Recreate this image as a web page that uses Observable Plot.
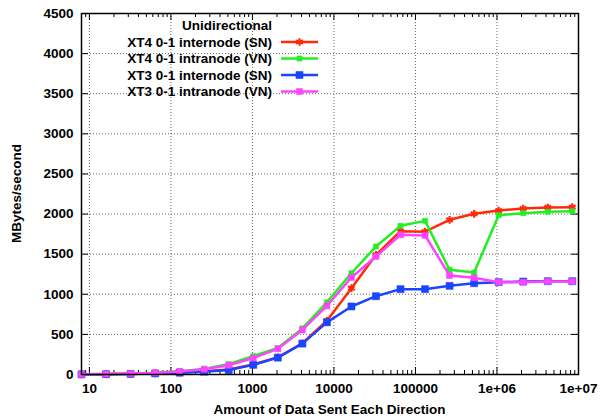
<!DOCTYPE html>
<html><head><meta charset="utf-8">
<script src="https://cdn.jsdelivr.net/npm/d3@7"></script>
<script src="https://cdn.jsdelivr.net/npm/@observablehq/plot@0.6"></script>
<style>
body{margin:0;background:#fff}
#chart svg{font-family:"Liberation Sans",Arial,Helvetica,sans-serif}
</style>
</head><body><div id="chart"></div>
<script>
// Message sizes (bytes sent each direction)
const sizes = [8,16,32,64,128,256,512,1024,2048,4096,8192,16384,32768,65536,131072,262144,524288,1048576,2097152,4194304,8388608];

const seriesNames = ["XT4 0-1 internode (SN)","XT4 0-1 intranode (VN)","XT3 0-1 internode (SN)","XT3 0-1 intranode (VN)"];
const seriesColors = ["#ff2a0a","#22ee22","#1a44ff","#ff44ff"];

const xt4Internode = [2,4,8,14,25,40,62,125,215,390,670,1076,1492,1786,1780,1928,2003,2044,2069,2082,2086];
const xt4Intranode = [3,6,12,22,40,70,130,230,330,575,900,1263,1595,1853,1915,1305,1271,1986,2011,2028,2036];
const xt3Internode = [2,4,7,13,22,35,55,120,210,385,650,848,976,1064,1064,1105,1138,1151,1159,1163,1163];
const xt3Intranode = [3,6,11,20,38,65,115,205,320,555,855,1209,1471,1741,1733,1234,1205,1151,1150,1160,1160];

const xTicks = [10,100,1000,10000,100000,1000000,10000000];
const xTickLabels = ["10","100","1000","10000","100000","1e+06","1e+07"];
const yTicks = [0,500,1000,1500,2000,2500,3000,3500,4000,4500];
const yTickLabels = ["0","500","1000","1500","2000","2500","3000","3500","4000","4500"];

const legendTitle = "Unidirectional";
const xTitle = "Amount of Data Sent Each Direction";
const yTitle = "MBytes/second";

const W = 600, H = 419, mL = 81, mR = 22, mT = 13, mB = 45;
const iw = W - mL - mR, ih = H - mT - mB;

const allValues = [xt4Internode, xt4Intranode, xt3Internode, xt3Intranode];
const series = seriesNames.map((name, i) => ({
  name, color: seriesColors[i],
  rows: sizes.map((s, j) => ({size: s, value: allValues[i][j]}))
}));

// minor log ticks
const minorX = [];
for (let p = 0; p <= 6; p++) for (let m = 2; m <= 9; m++) {
  const v = m * Math.pow(10, p);
  if (v > 8 && v < 1e7) minorX.push(v);
}

const symbols = ["asterisk","square","square","square"];
const symR = [3.6, 2.9, 4.0, 3.4];

const marks = [
  Plot.gridX(xTicks.slice(0, -1), {stroke: "#666", strokeOpacity: 1, strokeDasharray: "1,2", strokeWidth: 1}),
  Plot.gridY(yTicks.slice(1, -1), {stroke: "#666", strokeOpacity: 1, strokeDasharray: "1,2", strokeWidth: 1}),
  Plot.tickX(xTicks, {x: d => d, insetTop: ih - 7, stroke: "#000", strokeWidth: 1}),
  Plot.tickX(xTicks, {x: d => d, insetBottom: ih - 7, stroke: "#000", strokeWidth: 1}),
  Plot.tickX(minorX, {x: d => d, insetTop: ih - 4, stroke: "#000", strokeWidth: 1}),
  Plot.tickX(minorX, {x: d => d, insetBottom: ih - 4, stroke: "#000", strokeWidth: 1}),
  Plot.tickY(yTicks, {y: d => d, insetRight: iw - 7, stroke: "#000", strokeWidth: 1}),
  Plot.tickY(yTicks, {y: d => d, insetLeft: iw - 7, stroke: "#000", strokeWidth: 1}),
];

series.forEach((s, i) => {
  marks.push(Plot.line(s.rows, {x: "size", y: "value", stroke: s.color, strokeWidth: 2.5}));
  if (symbols[i] === "asterisk") {
    marks.push(Plot.dot(s.rows, {x: "size", y: "value", symbol: "asterisk", stroke: s.color, strokeWidth: 2.2, r: symR[i]}));
  } else {
    marks.push(Plot.dot(s.rows, {x: "size", y: "value", symbol: "square", fill: s.color, stroke: s.color, strokeWidth: 0.5, r: symR[i]}));
  }
});

marks.push(Plot.frame({stroke: "#000", strokeWidth: 1.5}));
marks.push(Plot.axisX(xTicks, {tickSize: 0, tickPadding: 9, tickFormat: d => xTickLabels[xTicks.indexOf(d)], fontWeight: "bold", fontSize: 13.5, label: null, fill: "#000"}));
marks.push(Plot.axisY(yTicks, {tickSize: 0, tickPadding: 8, tickFormat: d => yTickLabels[yTicks.indexOf(d)], fontWeight: "bold", fontSize: 13.5, label: null, fill: "#000"}));

const chart = Plot.plot({
  width: W, height: H,
  marginLeft: mL, marginRight: mR, marginTop: mT, marginBottom: mB,
  style: {fontFamily: '"Liberation Sans", Arial, sans-serif', background: "#fff", color: "#000"},
  x: {type: "log", domain: [8, 1e7]},
  y: {domain: [0, 4500]},
  marks
});
document.getElementById("chart").appendChild(chart);

// titles and legend
const svg = d3.select(chart);
svg.append("text").attr("x", mL + iw / 2).attr("y", H - 10).attr("dy", "0.35em")
  .attr("text-anchor", "middle").attr("font-weight", "bold").attr("font-size", 13.5).attr("fill", "#000")
  .text(xTitle);
svg.append("text").attr("transform", `translate(16,${mT + ih / 2}) rotate(-90)`).attr("dy", "0.35em")
  .attr("text-anchor", "middle").attr("font-weight", "bold").attr("font-size", 13.5).attr("fill", "#000")
  .text(yTitle);

const lg = svg.append("g").attr("font-weight", "bold").attr("font-size", 13.5).attr("fill", "#000");
lg.append("text").attr("x", 272).attr("y", 25).attr("dy", "0.35em").attr("text-anchor", "end").text(legendTitle);
const rowY = [42, 58.5, 75, 91.5];
series.forEach((s, i) => {
  const y = rowY[i];
  lg.append("text").attr("x", 272).attr("y", y).attr("dy", "0.35em").attr("text-anchor", "end").text(s.name);
  lg.append("line").attr("x1", 281).attr("x2", 318).attr("y1", y).attr("y2", y).attr("stroke", s.color).attr("stroke-width", 2.5);
  const sym = d3.symbol().type(symbols[i] === "asterisk" ? d3.symbolAsterisk : d3.symbolSquare).size(symR[i] * symR[i] * Math.PI);
  const p = lg.append("path").attr("d", sym()).attr("transform", `translate(299.5,${y})`);
  if (symbols[i] === "asterisk") p.attr("fill", "none").attr("stroke", s.color).attr("stroke-width", 2.2);
  else p.attr("fill", s.color).attr("stroke", s.color).attr("stroke-width", 0.5);
});
</script>
</body></html>
